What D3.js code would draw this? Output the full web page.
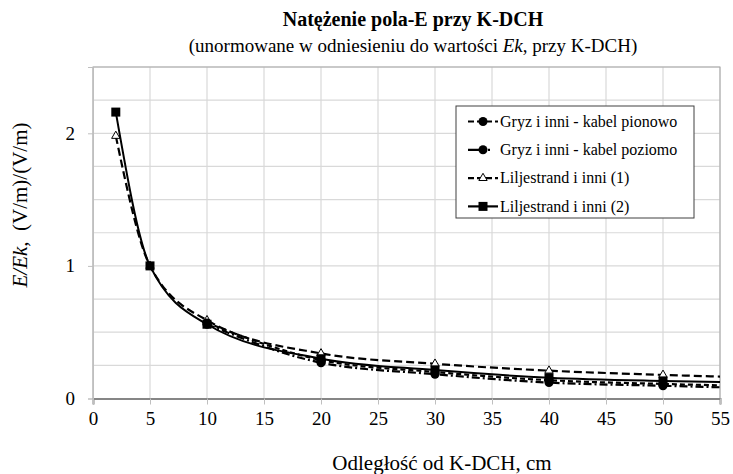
<!DOCTYPE html>
<html lang="pl">
<head>
    <meta charset="UTF-8">
    <title>Natężenie pola-E przy K-DCH</title>
    <script src="https://d3js.org/d3.v7.min.js"></script>
    <style>
        body { margin: 0; background: #fff; }
        svg { display: block; }
        text { font-family: "Liberation Serif", "DejaVu Serif", serif; fill: #000; }
    </style>
</head>
<body>
<svg width="733" height="474"></svg>

<script>
    // series data (distance in cm, E/Ek)
    const xPionowo = [10, 20, 30, 40, 50, 60];
    const yPionowo = [0.57, 0.29, 0.2, 0.138, 0.11, 0.09];

    const xPoziomo = [10, 20, 30, 40, 50, 60];
    const yPoziomo = [0.56, 0.27, 0.183, 0.12, 0.096, 0.074];

    const xLilj1 = [2, 5, 10, 20, 30, 40, 50, 60];
    const yLilj1 = [1.98, 1.0, 0.59, 0.34, 0.262, 0.21, 0.178, 0.155];

    const xLilj2 = [2, 5, 10, 20, 30, 40, 50, 60];
    const yLilj2 = [2.16, 1.0, 0.56, 0.3, 0.215, 0.157, 0.132, 0.118];

    const seriesNames = ["Gryz i inni - kabel pionowo", "Gryz i inni - kabel poziomo",
        "Liljestrand i inni (1)", "Liljestrand i inni (2)"];

    const xTicks = d3.range(0, 56, 5);
    const yTicks = [0, 1, 2];
    const yGrid = d3.range(0, 2.51, 0.25);

    const svg = d3.select("svg");
    const pLeft = 93, pRight = 720, pTop = 67, pBottom = 398.5;

    const x = d3.scaleLinear().domain([0, 55]).range([pLeft, pRight]);
    const y = d3.scaleLinear().domain([0, 2.5]).range([pBottom, pTop]);

    // gridlines
    svg.append("g").selectAll("line").data(yGrid).join("line")
        .attr("x1", pLeft).attr("x2", pRight)
        .attr("y1", d => y(d)).attr("y2", d => y(d))
        .attr("stroke", "#d9d9d9").attr("stroke-width", 1.2);
    svg.append("g").selectAll("line").data(xTicks).join("line")
        .attr("x1", d => x(d)).attr("x2", d => x(d))
        .attr("y1", pTop).attr("y2", pBottom)
        .attr("stroke", "#d9d9d9").attr("stroke-width", 1.2);

    // frame
    svg.append("rect").attr("x", pLeft).attr("y", pTop)
        .attr("width", pRight - pLeft).attr("height", pBottom - pTop)
        .attr("fill", "none").attr("stroke", "#a6a6a6").attr("stroke-width", 1);

    // axes
    const xAxis = svg.append("g").attr("transform", `translate(0,${pBottom})`)
        .call(d3.axisBottom(x).tickValues(xTicks).tickSize(6).tickPadding(7));
    xAxis.select(".domain").attr("stroke", "#868686").attr("stroke-width", 2);
    xAxis.selectAll(".tick line").attr("stroke", "#bfbfbf");
    xAxis.selectAll("text").attr("font-size", 19).attr("font-family", "Liberation Serif");

    const yAxis = svg.append("g").attr("transform", `translate(${pLeft},0)`)
        .call(d3.axisLeft(y).tickValues(yTicks).tickFormat(d3.format("d"))
            .tickSize(5).tickPadding(13));
    yAxis.select(".domain").attr("stroke", "#bfbfbf");
    yAxis.selectAll(".tick line").attr("stroke", "#bfbfbf");
    yAxis.selectAll("text").attr("font-size", 19).attr("font-family", "Liberation Serif");

    // clip for lines
    svg.append("clipPath").attr("id", "plot")
        .append("rect").attr("x", pLeft).attr("y", pTop - 10)
        .attr("width", pRight - pLeft).attr("height", pBottom - pTop + 10);

    const line = d3.line().x(d => x(d[0])).y(d => y(d[1])).curve(d3.curveMonotoneX);

    const series = [
        {name: seriesNames[0], xs: xPionowo, ys: yPionowo, dash: "5,3", marker: "circle"},
        {name: seriesNames[1], xs: xPoziomo, ys: yPoziomo, dash: "8,3,2,3", marker: "circle"},
        {name: seriesNames[2], xs: xLilj1, ys: yLilj1, dash: "8,4", marker: "triangle"},
        {name: seriesNames[3], xs: xLilj2, ys: yLilj2, dash: null, marker: "square"}
    ];

    const plot = svg.append("g").attr("clip-path", "url(#plot)");

    function drawMarker(g, type, cx, cy) {
        if (type === "circle") {
            g.append("circle").attr("cx", cx).attr("cy", cy).attr("r", 4.5).attr("fill", "#000");
        } else if (type === "square") {
            g.append("rect").attr("x", cx - 4.5).attr("y", cy - 4.5)
                .attr("width", 9).attr("height", 9).attr("fill", "#000");
        } else {
            g.append("path")
                .attr("d", d3.symbol().type(d3.symbolTriangle).size(30)())
                .attr("transform", `translate(${cx},${cy})`)
                .attr("fill", "#fff").attr("stroke", "#000").attr("stroke-width", 1);
        }
    }

    // draw order: Liljestrand first, Gryz on top
    [series[2], series[3], series[0], series[1]].forEach(s => {
        const pts = s.xs.map((v, i) => [v, s.ys[i]]);
        plot.append("path").datum(pts)
            .attr("d", line)
            .attr("fill", "none")
            .attr("stroke", "#000")
            .attr("stroke-width", s.dash ? 2.2 : 2)
            .attr("stroke-dasharray", s.dash);
        const mg = plot.append("g");
        pts.forEach(p => drawMarker(mg, s.marker, x(p[0]), y(p[1])));
    });

    // legend
    const lg = svg.append("g").attr("transform", "translate(456,106)");
    lg.append("rect").attr("width", 238).attr("height", 112)
        .attr("fill", "#fff").attr("stroke", "#404040").attr("stroke-width", 1);
    series.forEach((s, i) => {
        const ly = 15.5 + i * 28.3;
        lg.append("line").attr("x1", 12).attr("x2", 42).attr("y1", ly).attr("y2", ly)
            .attr("stroke", "#000").attr("stroke-width", 2.2)
            .attr("stroke-dasharray", s.dash ? (i === 1 ? "14,6,2,20" : "6,3") : null);
        drawMarker(lg, s.marker, 27, ly);
        lg.append("text").attr("x", 44).attr("y", ly).attr("dy", "0.33em")
            .attr("font-size", 16).text(s.name);
    });

    // titles
    svg.append("text").attr("x", 413).attr("y", 26).attr("text-anchor", "middle")
        .attr("font-size", 20).attr("font-weight", "bold")
        .text("Natężenie pola-E przy K-DCH");
    const sub = svg.append("text").attr("x", 413).attr("y", 52).attr("text-anchor", "middle")
        .attr("font-size", 19);
    sub.append("tspan").text("(unormowane w odniesieniu do wartości ");
    sub.append("tspan").attr("font-style", "italic").text("Ek");
    sub.append("tspan").text(", przy K-DCH)");

    svg.append("text").attr("x", 442).attr("y", 470).attr("text-anchor", "middle")
        .attr("font-size", 21).text("Odległość od K-DCH, cm");

    const yl = svg.append("text").attr("transform", "translate(27,205) rotate(-90)")
        .attr("text-anchor", "middle").attr("font-size", 21);
    yl.append("tspan").attr("font-style", "italic").text("E/Ek,");
    yl.append("tspan").text("\u00a0\u00a0(V/m)/(V/m)");
</script>
</body>
</html>
